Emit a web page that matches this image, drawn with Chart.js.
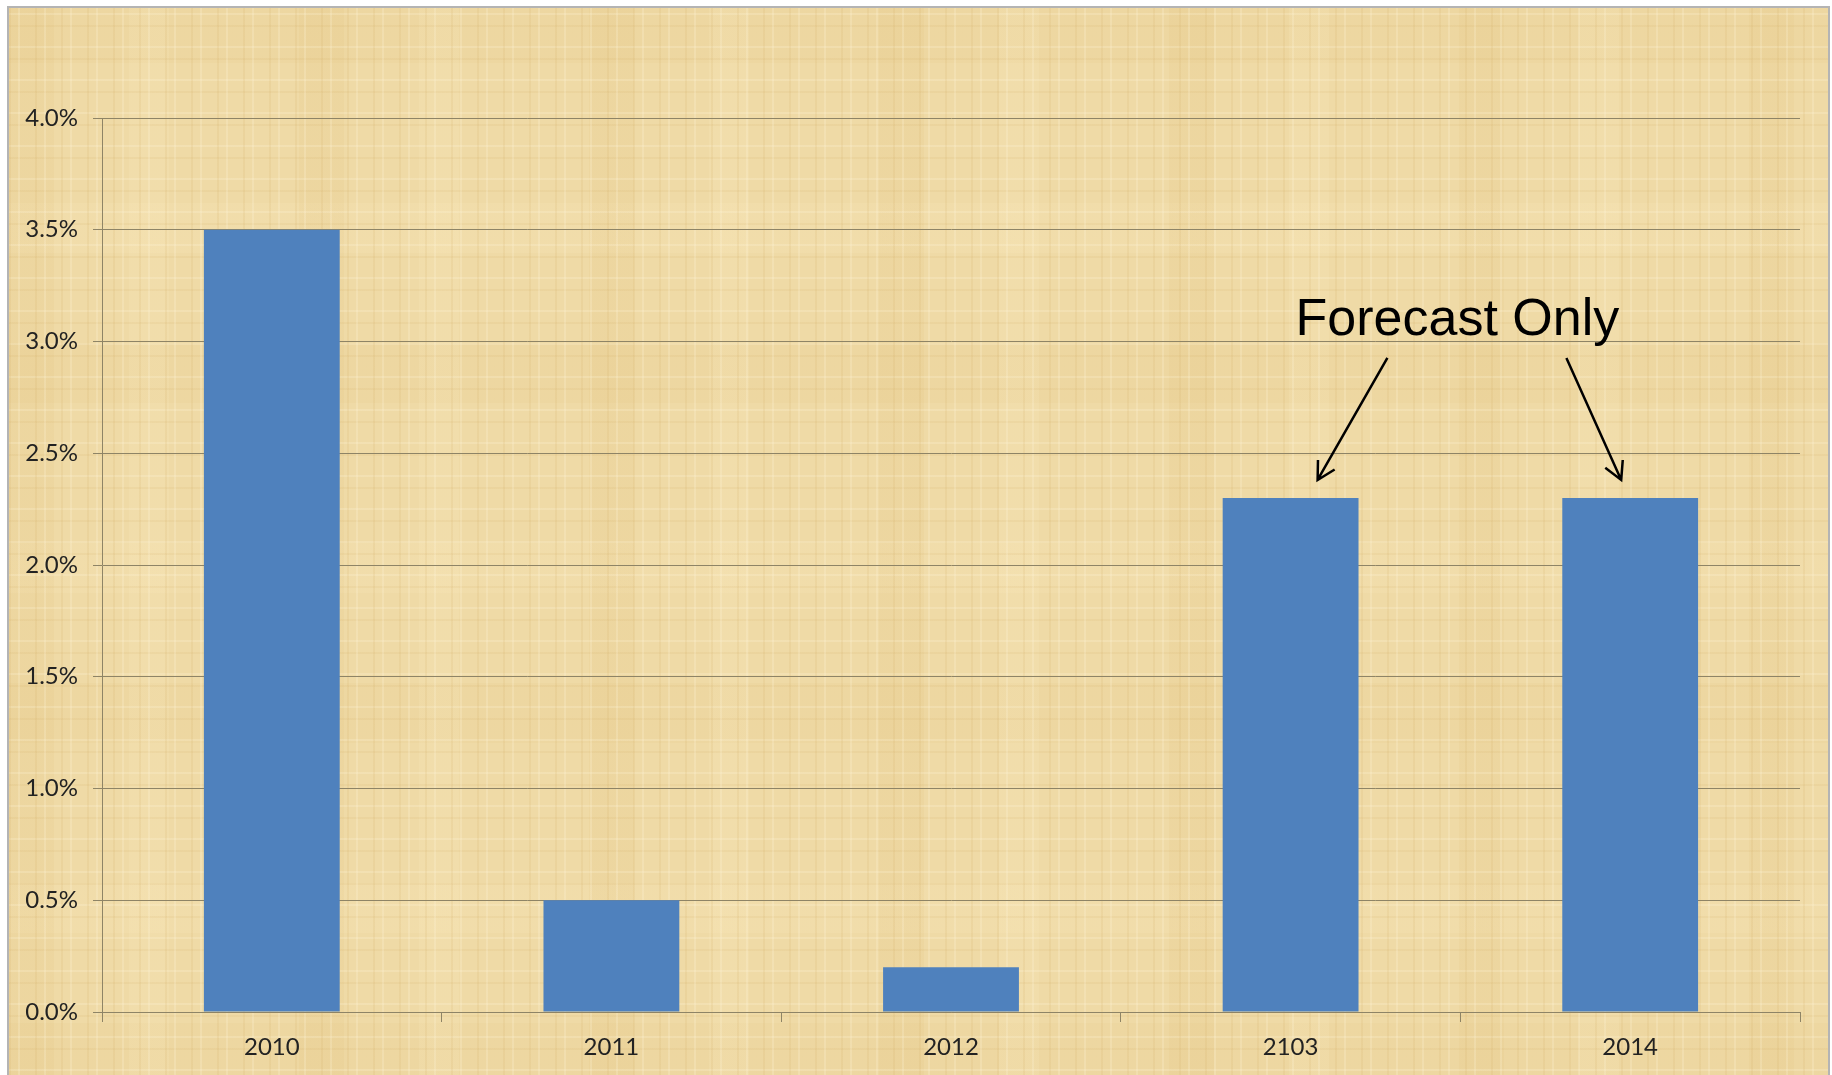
<!DOCTYPE html>
<html>
<head>
<meta charset="utf-8">
<script src="https://cdn.jsdelivr.net/npm/chart.js@4.4.1/dist/chart.umd.min.js"></script>
<style>
  html, body { margin: 0; padding: 0; background: #fff; }
  #paper {
    position: absolute; left: 7px; top: 6px; width: 1819px; height: 1075px;
    border: 2px solid #b4b4b4; border-bottom: none;
    background-color: #efdaa6;
    background-image:
      repeating-linear-gradient(90deg, rgba(205,165,90,0.13) 0 2px, transparent 2px 9px, rgba(255,246,220,0.22) 9px 11px, transparent 11px 26px),
      repeating-linear-gradient(0deg, rgba(205,165,90,0.11) 0 2px, transparent 2px 12px, rgba(255,246,220,0.22) 12px 14px, transparent 14px 33px),
      repeating-linear-gradient(90deg, rgba(215,175,95,0.09) 0 45px, transparent 45px 120px, rgba(255,240,200,0.14) 120px 160px, transparent 160px 290px),
      repeating-linear-gradient(0deg, rgba(215,175,95,0.07) 0 60px, transparent 60px 150px, rgba(255,240,200,0.12) 150px 200px, transparent 200px 340px);
  }
  #wrap { position: absolute; left: 0; top: 0; width: 1832px; height: 1075px; }
</style>
</head>
<body>
<div id="paper"></div>
<div id="wrap"><canvas id="growthChart" width="1832" height="1075"></canvas></div>
<script>
var years = ['2010', '2011', '2012', '2103', '2014'];
var growthPct = [3.5, 0.5, 0.2, 2.3, 2.3];
var yTicks = [0, 0.5, 1, 1.5, 2, 2.5, 3, 3.5, 4];
var noteText = 'Forecast Only';
var noteBars = [3, 4];

var gridColor = '#8e8466';

// "Forecast Only" label with arrows pointing at the forecast bars
var forecastNote = {
  id: 'forecastNote',
  afterDatasetsDraw: function(chart) {
    var ctx = chart.ctx;
    var x = chart.scales.x, y = chart.scales.y;
    var xa = x.getPixelForValue(noteBars[0]);
    var xb = x.getPixelForValue(noteBars[1]);
    var top = y.getPixelForValue(growthPct[noteBars[0]]);
    var cx = (xa + xb) / 2 - 3;
    var base = top - 163;

    ctx.save();
    ctx.fillStyle = '#000';
    ctx.font = '52px "Liberation Sans", Arial, sans-serif';
    ctx.textAlign = 'center';
    ctx.textBaseline = 'alphabetic';
    ctx.fillText(noteText, cx, base);

    ctx.strokeStyle = '#000';
    ctx.lineWidth = 2.5;
    var arrows = [
      [cx - 70, base + 23, xa + 27, top - 18],
      [cx + 109, base + 23, xb - 9, top - 18]
    ];
    arrows.forEach(function(a) {
      var ang = Math.atan2(a[3] - a[1], a[2] - a[0]);
      var len = 20, spread = 0.5;
      ctx.beginPath();
      ctx.moveTo(a[0], a[1]);
      ctx.lineTo(a[2], a[3]);
      ctx.moveTo(a[2] - len * Math.cos(ang - spread), a[3] - len * Math.sin(ang - spread));
      ctx.lineTo(a[2], a[3]);
      ctx.lineTo(a[2] - len * Math.cos(ang + spread), a[3] - len * Math.sin(ang + spread));
      ctx.stroke();
    });
    ctx.restore();
  }
};

var growthCanvas = document.getElementById('growthChart');

var growthData = {
  labels: years,
  datasets: [{
    label: 'Growth',
    data: growthPct,
    backgroundColor: '#4f81bd',
    borderWidth: 0,
    categoryPercentage: 1,
    barPercentage: 0.4
  }]
};

var chartOptions = {
  responsive: false,
  animation: false,
  layout: { padding: { left: 0, right: 32, top: 118, bottom: 0 } },
  plugins: {
    legend: { display: false },
    tooltip: { enabled: false }
  },
  scales: {
    x: {
      afterFit: function(scale) { scale.height = 63; },
      grid: {
        offset: true,
        drawOnChartArea: false,
        drawTicks: true,
        tickLength: 10,
        color: gridColor,
        lineWidth: 1
      },
      border: { color: gridColor, width: 1 },
      ticks: {
        color: '#222',
        padding: 11,
        font: { family: 'Lato, "Open Sans", sans-serif', size: 24 }
      }
    },
    y: {
      min: 0,
      max: 4,
      afterFit: function(scale) { scale.width = 102; },
      afterBuildTicks: function(scale) {
        scale.ticks = yTicks.map(function(v) { return { value: v }; });
      },
      grid: {
        color: gridColor,
        lineWidth: 1,
        drawTicks: true,
        tickLength: 9
      },
      border: { color: gridColor, width: 1 },
      ticks: {
        color: '#222',
        padding: 15,
        font: { family: 'Lato, "Open Sans", sans-serif', size: 24 },
        callback: function(v) { return v.toFixed(1) + '%'; }
      }
    }
  }
};

var barChart = new Chart(growthCanvas, {
  type: 'bar',
  data: growthData,
  options: chartOptions,
  plugins: [forecastNote]
});
</script>
</body>
</html>
